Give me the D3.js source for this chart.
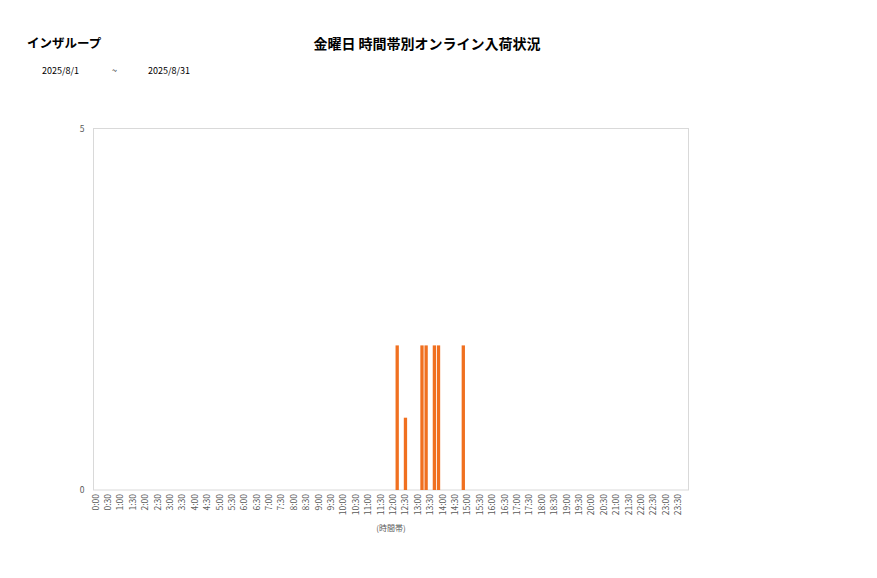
<!DOCTYPE html>
<html><head><meta charset="utf-8">
<script src="https://cdn.jsdelivr.net/npm/d3@7"></script>
<style>
body{margin:0;background:#fff;font-family:"Noto Sans CJK JP","Noto Sans",sans-serif;}
</style></head>
<body><div id="chart"></div>
<script>
const storeName = "インザループ";
const chartTitle = "金曜日 時間帯別オンライン入荷状況";
const dateFrom = "2025/8/1";
const dateSep = "~";
const dateTo = "2025/8/31";
const xAxisTitle = "(時間帯)";
const yTicks = [0, 5];
const times = [
"0:00","0:10","0:20","0:30","0:40","0:50","1:00","1:10","1:20","1:30","1:40","1:50",
"2:00","2:10","2:20","2:30","2:40","2:50","3:00","3:10","3:20","3:30","3:40","3:50",
"4:00","4:10","4:20","4:30","4:40","4:50","5:00","5:10","5:20","5:30","5:40","5:50",
"6:00","6:10","6:20","6:30","6:40","6:50","7:00","7:10","7:20","7:30","7:40","7:50",
"8:00","8:10","8:20","8:30","8:40","8:50","9:00","9:10","9:20","9:30","9:40","9:50",
"10:00","10:10","10:20","10:30","10:40","10:50","11:00","11:10","11:20","11:30","11:40","11:50",
"12:00","12:10","12:20","12:30","12:40","12:50","13:00","13:10","13:20","13:30","13:40","13:50",
"14:00","14:10","14:20","14:30","14:40","14:50","15:00","15:10","15:20","15:30","15:40","15:50",
"16:00","16:10","16:20","16:30","16:40","16:50","17:00","17:10","17:20","17:30","17:40","17:50",
"18:00","18:10","18:20","18:30","18:40","18:50","19:00","19:10","19:20","19:30","19:40","19:50",
"20:00","20:10","20:20","20:30","20:40","20:50","21:00","21:10","21:20","21:30","21:40","21:50",
"22:00","22:10","22:20","22:30","22:40","22:50","23:00","23:10","23:20","23:30","23:40","23:50"];
const tickLabels = ["0:00","0:30","1:00","1:30","2:00","2:30","3:00","3:30","4:00","4:30","5:00","5:30",
"6:00","6:30","7:00","7:30","8:00","8:30","9:00","9:30","10:00","10:30","11:00","11:30",
"12:00","12:30","13:00","13:30","14:00","14:30","15:00","15:30","16:00","16:30","17:00","17:30",
"18:00","18:30","19:00","19:30","20:00","20:30","21:00","21:30","22:00","22:30","23:00","23:30"];
const values = [
0,0,0,0,0,0,0,0,0,0,0,0,
0,0,0,0,0,0,0,0,0,0,0,0,
0,0,0,0,0,0,0,0,0,0,0,0,
0,0,0,0,0,0,0,0,0,0,0,0,
0,0,0,0,0,0,0,0,0,0,0,0,
0,0,0,0,0,0,0,0,0,0,0,0,
0,2,0,1,0,0,0,2,2,0,2,2,
0,0,0,0,0,2,0,0,0,0,0,0,
0,0,0,0,0,0,0,0,0,0,0,0,
0,0,0,0,0,0,0,0,0,0,0,0,
0,0,0,0,0,0,0,0,0,0,0,0,
0,0,0,0,0,0,0,0,0,0,0,0];

const W = 877, H = 578;
const m = {left: 93.5, top: 128.5, right: 877-688.5, bottom: 578-490};
const svg = d3.select("#chart").append("svg").attr("width", W).attr("height", H);
const font = '"Noto Sans CJK JP","Noto Sans",sans-serif';

const x = d3.scaleBand().domain(times).range([m.left, W - m.right]).paddingInner(0.2).paddingOuter(0.1);
const y = d3.scaleLinear().domain([0, 5]).range([H - m.bottom, m.top]);

// plot border
svg.append("rect").attr("x", m.left).attr("y", m.top)
  .attr("width", W - m.right - m.left).attr("height", H - m.bottom - m.top)
  .attr("fill", "none").attr("stroke", "#d9d9d9").attr("stroke-width", 1);

// bars
svg.append("g").selectAll("rect").data(times.map((t, i) => ({t, v: values[i]})).filter(d => d.v > 0))
  .join("rect")
  .attr("x", d => x(d.t)).attr("width", x.bandwidth())
  .attr("y", d => y(d.v)).attr("height", d => y(0) - y(d.v))
  .attr("fill", "#f07020");

// x axis
const xAxis = d3.axisBottom(x).tickValues(tickLabels).tickSize(0).tickPadding(0);
const gx = svg.append("g").attr("transform", `translate(0,${H - m.bottom})`).call(xAxis);
gx.select(".domain").remove();
gx.selectAll("text")
  .attr("transform", "translate(0,4) rotate(-90)")
  .attr("x", 0).attr("y", 0).attr("dy", "0.35em")
  .attr("text-anchor", "end")
  .attr("font-family", font).attr("font-size", 8.5).attr("fill", "#595959");

// y axis
const yAxis = d3.axisLeft(y).tickValues(yTicks).tickFormat(d3.format("d")).tickSize(0).tickPadding(9);
const gy = svg.append("g").attr("transform", `translate(${m.left},0)`).call(yAxis);
gy.select(".domain").remove();
gy.selectAll("text").attr("font-family", font).attr("font-size", 8.5).attr("fill", "#595959");

// titles
svg.append("text").attr("x", 27).attr("y", 48).text(storeName)
  .attr("font-family", font).attr("font-size", 12.5).attr("font-weight", "bold").attr("fill", "#000");
svg.append("text").attr("x", 427).attr("y", 49).attr("text-anchor", "middle").text(chartTitle)
  .attr("font-family", font).attr("font-size", 14).attr("font-weight", "bold").attr("fill", "#000");
svg.append("text").attr("x", 42).attr("y", 74).text(dateFrom)
  .attr("font-family", font).attr("font-size", 9).attr("fill", "#000");
svg.append("text").attr("x", 112).attr("y", 74).text(dateSep)
  .attr("font-family", font).attr("font-size", 9).attr("fill", "#000");
svg.append("text").attr("x", 148).attr("y", 74).text(dateTo)
  .attr("font-family", font).attr("font-size", 9).attr("fill", "#000");
svg.append("text").attr("x", 391).attr("y", 531).attr("text-anchor", "middle").text(xAxisTitle)
  .attr("font-family", font).attr("font-size", 8).attr("fill", "#595959");
</script>
</body></html>
